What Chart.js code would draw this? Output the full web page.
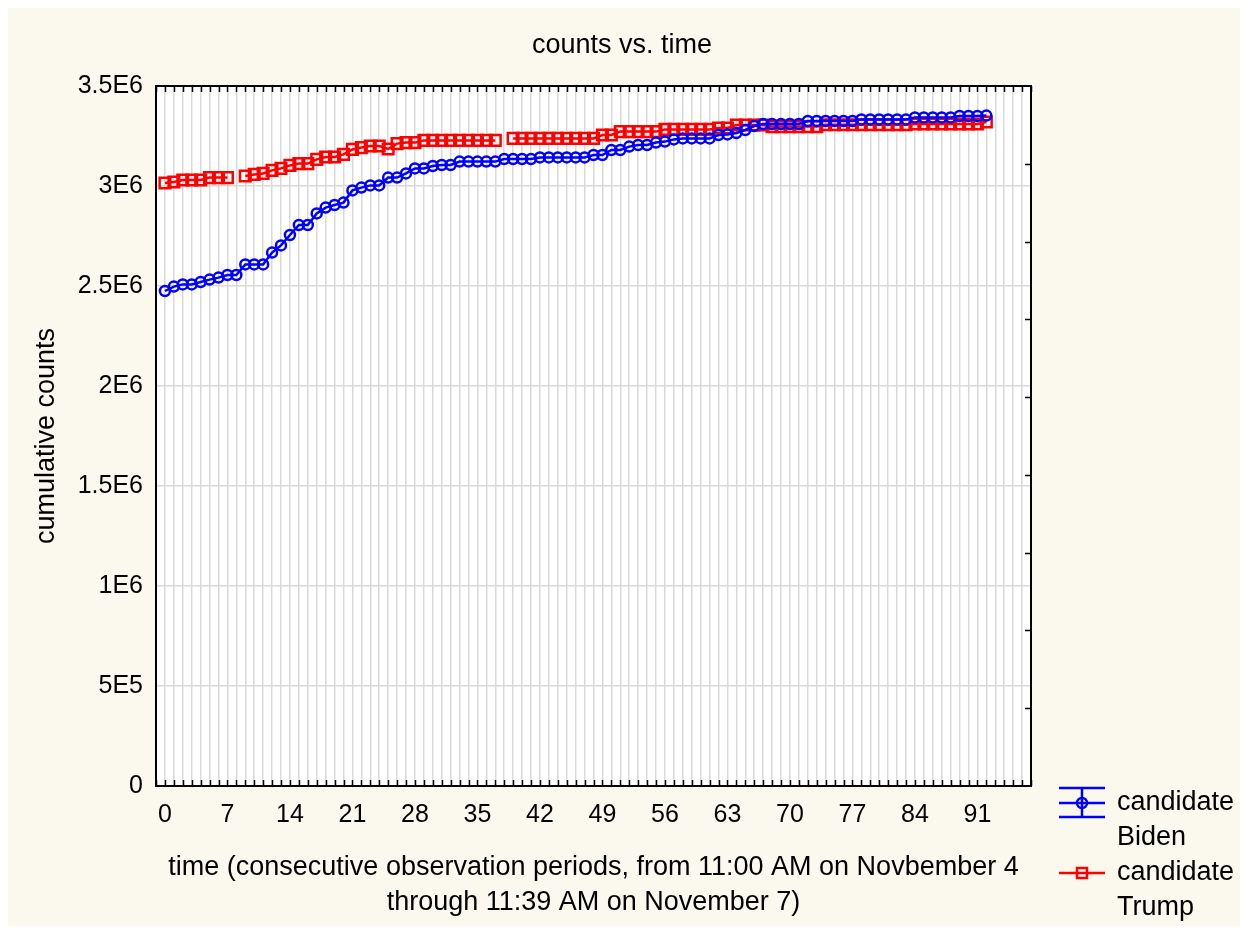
<!DOCTYPE html>
<html>
<head>
<meta charset="utf-8">
<title>counts vs. time</title>
<script src="https://cdn.jsdelivr.net/npm/chart.js@4.4.1/dist/chart.umd.min.js"></script>
<style>
  html, body { margin: 0; padding: 0; background: #ffffff; }
  #wrap { position: relative; width: 1244px; height: 932px; }
</style>
</head>
<body>
<div id="wrap"><canvas id="countsChart" width="1244" height="932"></canvas></div>
<script>
// cumulative counts, one value per observation period (0..92)
const bidenCounts = [
  2475000, 2497000, 2508000, 2508000, 2520000, 2532000, 2542000, 2555000, 2555000, 2608000,
  2608000, 2608000, 2667000, 2703000, 2755000, 2805000, 2805000, 2863000, 2892000, 2905000,
  2917000, 2978000, 2992000, 3003000, 3003000, 3042000, 3042000, 3063000, 3088000, 3088000,
  3100000, 3105000, 3105000, 3122000, 3122000, 3122000, 3122000, 3122000, 3135000, 3135000,
  3135000, 3135000, 3143000, 3143000, 3143000, 3143000, 3143000, 3143000, 3155000, 3155000,
  3180000, 3180000, 3197000, 3205000, 3205000, 3217000, 3222000, 3233000, 3238000, 3238000,
  3238000, 3238000, 3255000, 3258000, 3265000, 3280000, 3300000, 3310000, 3310000, 3310000,
  3310000, 3310000, 3325000, 3325000, 3325000, 3325000, 3325000, 3325000, 3333000, 3333000,
  3333000, 3333000, 3333000, 3333000, 3343000, 3343000, 3343000, 3343000, 3343000, 3350000,
  3350000, 3350000, 3352000
];
const trumpCounts = [
  3015000, 3020000, 3030000, 3030000, 3030000, 3042000, 3042000, 3042000, null, 3050000,
  3058000, 3063000, 3078000, 3088000, 3103000, 3112000, 3112000, 3133000, 3145000, 3145000,
  3158000, 3183000, 3192000, 3200000, 3200000, 3185000, 3212000, 3217000, 3217000, 3228000,
  3228000, 3228000, 3228000, 3228000, 3228000, 3228000, 3228000, 3228000, null, 3238000,
  3238000, 3238000, 3238000, 3238000, 3238000, 3238000, 3238000, 3238000, 3238000, 3255000,
  3255000, 3272000, 3272000, 3272000, 3272000, 3272000, 3283000, 3283000, 3283000, 3283000,
  3283000, 3283000, 3290000, 3290000, 3305000, 3305000, 3305000, 3305000, 3297000, 3297000,
  3297000, 3297000, 3297000, 3297000, 3306000, 3306000, 3306000, 3306000, 3306000, 3306000,
  3306000, 3306000, 3306000, 3306000, 3310000, 3310000, 3310000, 3310000, 3310000, 3310000,
  3310000, 3310000, 3320000
];
const periods = bidenCounts.map((_, i) => i);

const xTickLabels = [0, 7, 14, 21, 28, 35, 42, 49, 56, 63, 70, 77, 84, 91];
const yTickValues = [0, 500000, 1000000, 1500000, 2000000, 2500000, 3000000, 3500000];
const yTickLabels = ['0', '5E5', '1E6', '1.5E6', '2E6', '2.5E6', '3E6', '3.5E6'];
const seriesNames = [['candidate', 'Biden'], ['candidate', 'Trump']];

const xMin = -1, xMax = 97;
const xGridSteps = Array.from({ length: xMax - xMin + 1 }, (_, i) => xMin + i);

const FONT = '"Liberation Sans", Arial, sans-serif';
const BLUE = '#0000ff';
const RED = '#ff0000';
const GRID = '#d9d9d9';

Chart.defaults.font.family = FONT;
Chart.defaults.color = '#000000';

const toPoints = (vals) => vals.map((v, i) => ({ x: periods[i], y: v }));

// background, frame, inner tick marks and the legend
const statFrame = {
  id: 'statFrame',
  beforeDraw(chart) {
    const { ctx, chartArea: a } = chart;
    ctx.save();
    ctx.fillStyle = '#ffffff';
    ctx.fillRect(0, 0, chart.width, chart.height);
    ctx.fillStyle = '#fbf9ee';
    ctx.fillRect(8, 8, chart.width - 12, chart.height - 14);
    ctx.fillStyle = '#ffffff';
    ctx.fillRect(a.left, a.top, a.width, a.height);
    ctx.restore();
  },
  afterDraw(chart) {
    const { ctx, chartArea: a, scales } = chart;
    ctx.save();
    ctx.strokeStyle = '#000000';
    ctx.lineWidth = 1.5;
    ctx.beginPath();
    xGridSteps.forEach(v => {
      const px = Math.round(scales.x.getPixelForValue(v)) + 0.5;
      ctx.moveTo(px, a.top);
      ctx.lineTo(px, a.top + 6);
      ctx.moveTo(px, a.bottom);
      ctx.lineTo(px, a.bottom - 6);
    });
    for (let k = 1; k < scales.y2.max; k++) {
      const py = Math.round(scales.y2.getPixelForValue(k)) + 0.5;
      ctx.moveTo(a.right - 6, py);
      ctx.lineTo(a.right, py);
    }
    ctx.stroke();

    ctx.lineWidth = 2;
    ctx.strokeRect(a.left, a.top, a.width, a.height);

    // legend
    const lx = 1082, half = 23;
    ctx.lineWidth = 2.5;
    ctx.strokeStyle = BLUE;
    ctx.beginPath();
    [788, 803, 817].forEach(y => { ctx.moveTo(lx - half, y); ctx.lineTo(lx + half, y); });
    ctx.moveTo(lx, 788);
    ctx.lineTo(lx, 817);
    ctx.stroke();
    ctx.beginPath();
    ctx.arc(lx, 803, 5, 0, Math.PI * 2);
    ctx.stroke();

    ctx.strokeStyle = RED;
    ctx.beginPath();
    ctx.moveTo(lx - half, 873);
    ctx.lineTo(lx + half, 873);
    ctx.stroke();
    ctx.strokeRect(lx - 5, 868, 10, 10);

    ctx.fillStyle = '#000000';
    ctx.font = '27px ' + FONT;
    ctx.textBaseline = 'middle';
    ctx.textAlign = 'left';
    ctx.fillText(seriesNames[0][0], 1117, 803);
    ctx.fillText(seriesNames[0][1], 1117, 838);
    ctx.fillText(seriesNames[1][0], 1117, 873);
    ctx.fillText(seriesNames[1][1], 1117, 908);
    ctx.restore();
  }
};

const ctx = document.getElementById('countsChart').getContext('2d');
new Chart(ctx, {
  type: 'line',
  data: {
    datasets: [
      {
        label: 'candidate Biden',
        data: toPoints(bidenCounts),
        yAxisID: 'y',
        borderColor: BLUE,
        borderWidth: 2.5,
        pointStyle: 'circle',
        pointRadius: 5,
        pointBorderWidth: 2.5,
        pointBorderColor: BLUE,
        pointBackgroundColor: 'rgba(0,0,0,0)',
        tension: 0
      },
      {
        label: 'candidate Trump',
        data: toPoints(trumpCounts),
        yAxisID: 'y',
        borderColor: RED,
        borderWidth: 2.5,
        pointStyle: 'rect',
        pointRadius: 7.5,
        pointBorderWidth: 2.5,
        pointBorderColor: RED,
        pointBackgroundColor: 'rgba(0,0,0,0)',
        spanGaps: false,
        tension: 0
      }
    ]
  },
  options: {
    responsive: false,
    animation: false,
    devicePixelRatio: 1,
    layout: { padding: 0 },
    plugins: {
      legend: { display: false },
      tooltip: { enabled: false },
      title: {
        display: true,
        text: 'counts vs. time',
        color: '#000000',
        font: { size: 27, weight: 'normal', lineHeight: 1.2 },
        padding: { top: 29, bottom: 24.6 }
      }
    },
    scales: {
      x: {
        type: 'linear',
        min: xMin,
        max: xMax,
        afterBuildTicks: (s) => { s.ticks = xGridSteps.map(v => ({ value: v })); },
        afterFit: (s) => { s.height = 146; },
        ticks: {
          autoSkip: false,
          maxRotation: 0,
          padding: 14,
          font: { size: 25 },
          callback: (v) => xTickLabels.includes(v) ? String(v) : ''
        },
        grid: { color: GRID, lineWidth: 1.5, drawTicks: false },
        border: { display: false },
        title: {
          display: true,
          text: ['time (consecutive observation periods, from 11:00 AM on Novbember 4',
                 'through 11:39 AM on November 7)'],
          font: { size: 27, lineHeight: 1.3 },
          padding: { top: 0, bottom: 11.5 }
        }
      },
      y: {
        position: 'left',
        min: 0,
        max: 3500000,
        afterBuildTicks: (s) => { s.ticks = yTickValues.map(v => ({ value: v })); },
        afterFit: (s) => { s.width = 156; },
        ticks: {
          padding: 13,
          font: { size: 25 },
          callback: (v, i) => yTickLabels[i]
        },
        grid: { color: GRID, lineWidth: 1.5, drawTicks: false },
        border: { display: false },
        title: {
          display: true,
          text: 'cumulative counts',
          font: { size: 27, lineHeight: 1.2 },
          padding: { top: 30, bottom: 0 }
        }
      },
      y2: {
        position: 'right',
        min: 0,
        max: 9,
        afterFit: (s) => { s.width = 213; },
        ticks: { display: false },
        grid: { display: false },
        border: { display: false }
      }
    }
  },
  plugins: [statFrame]
});
</script>
</body>
</html>
